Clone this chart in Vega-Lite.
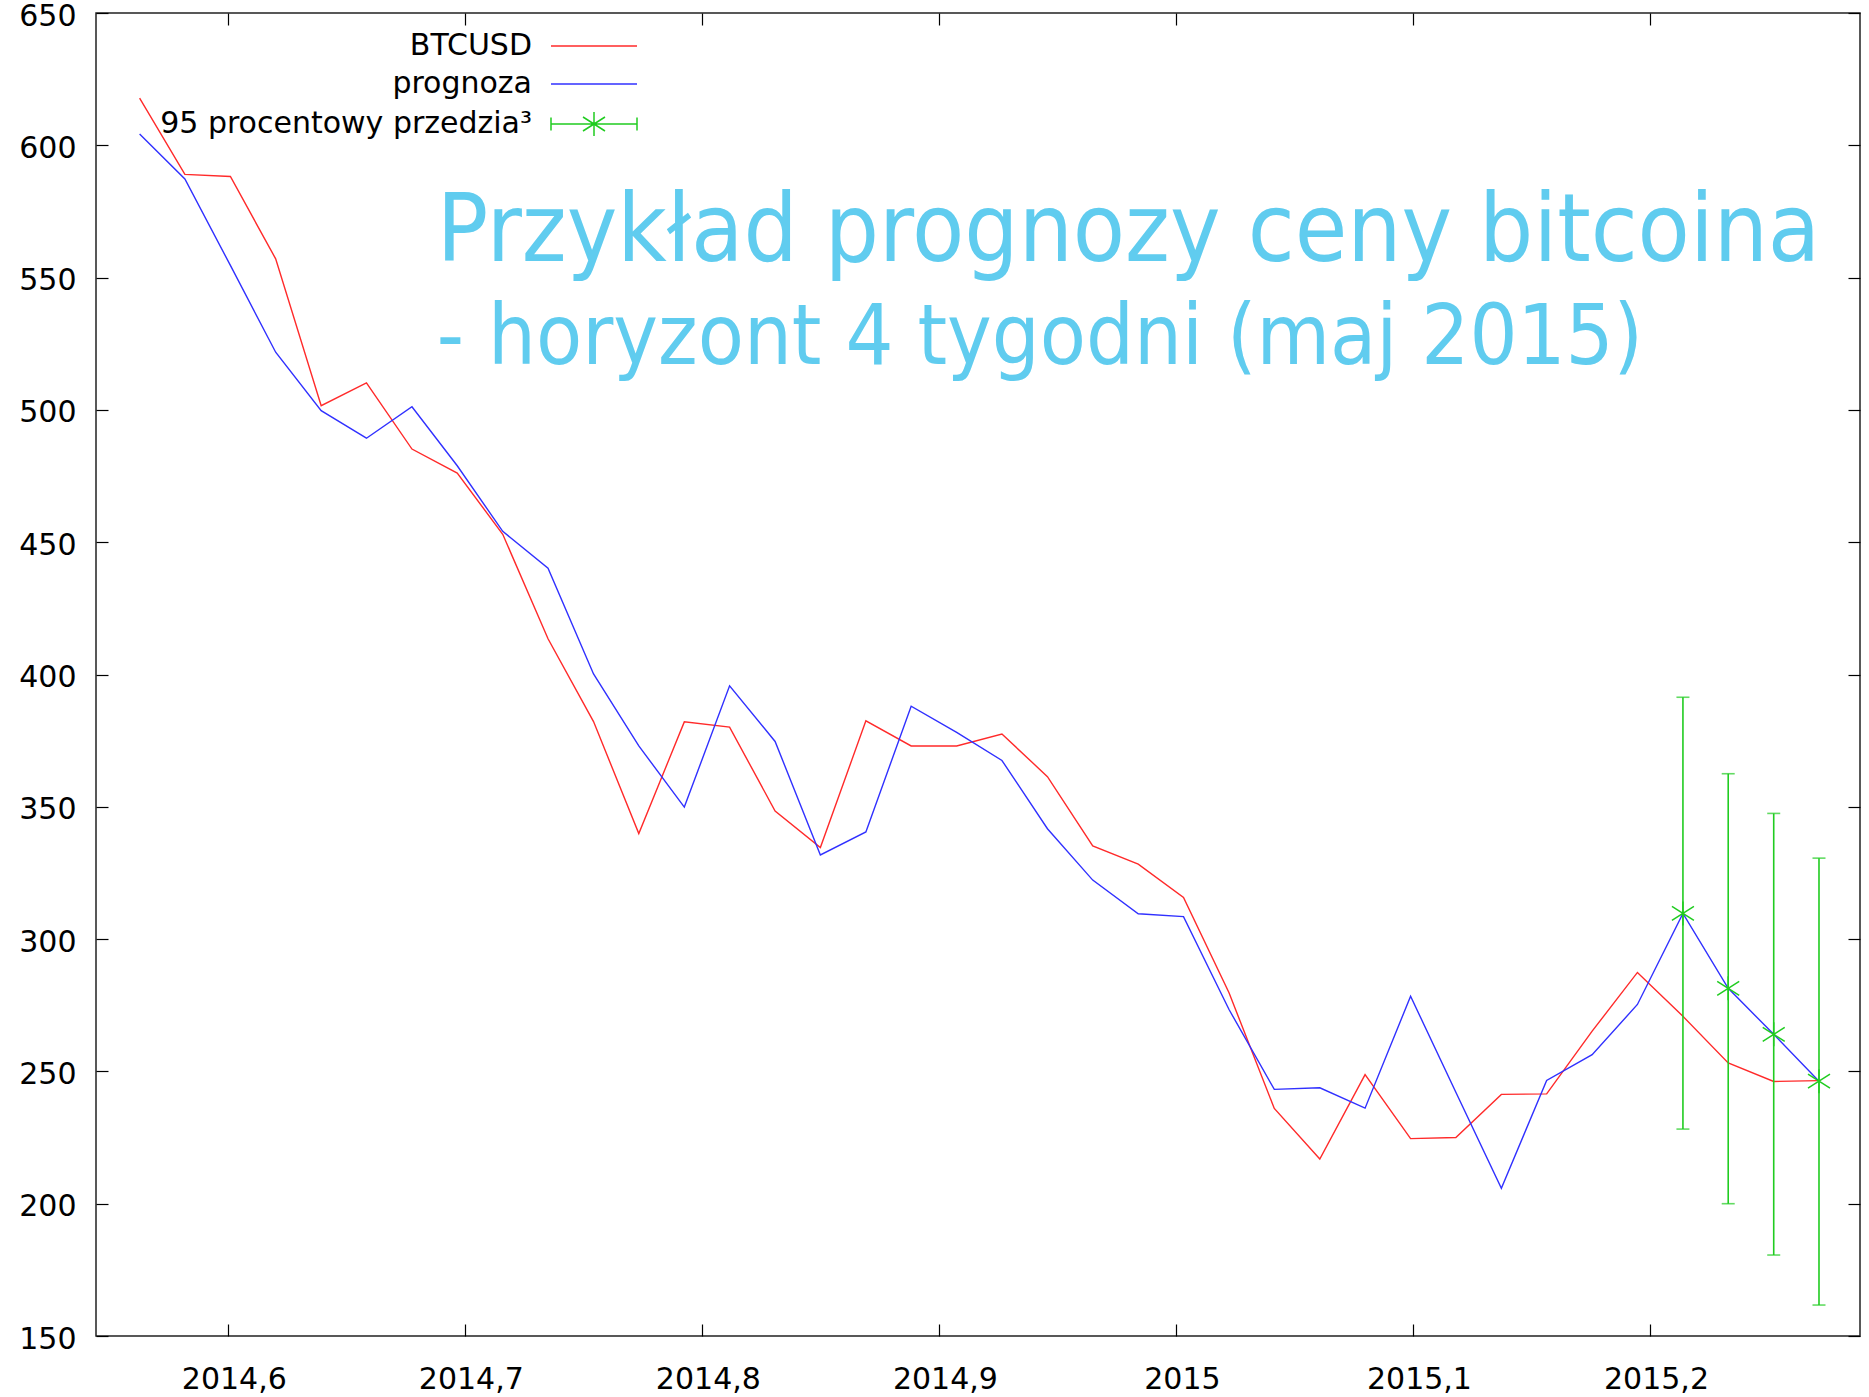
{
  "$schema": "https://vega.github.io/schema/vega-lite/v6.json",
  "width": 1764,
  "height": 1323,
  "autosize": {"type": "none"},
  "padding": {"top": 13, "left": 96, "right": 9, "bottom": 61},
  "background": "white",
  "config": {
    "view": {"stroke": "#222", "strokeWidth": 1.5},
    "axis": {"labelFont": "DejaVu Sans", "labelFontSize": 30, "labelColor": "#000", "tickColor": "#000", "tickSize": -12, "tickWidth": 1.2, "domain": false, "grid": false}
  },
  "datasets": {
    "lines": [
      {"year": 2014.5628, "price": 617.8, "series": "BTCUSD"},
      {"year": 2014.5819, "price": 589.0, "series": "BTCUSD"},
      {"year": 2014.6011, "price": 588.2, "series": "BTCUSD"},
      {"year": 2014.6202, "price": 557.1, "series": "BTCUSD"},
      {"year": 2014.6394, "price": 501.6, "series": "BTCUSD"},
      {"year": 2014.6585, "price": 510.2, "series": "BTCUSD"},
      {"year": 2014.6777, "price": 485.2, "series": "BTCUSD"},
      {"year": 2014.6968, "price": 476.1, "series": "BTCUSD"},
      {"year": 2014.7160, "price": 453.0, "series": "BTCUSD"},
      {"year": 2014.7351, "price": 413.5, "series": "BTCUSD"},
      {"year": 2014.7543, "price": 382.2, "series": "BTCUSD"},
      {"year": 2014.7734, "price": 339.9, "series": "BTCUSD"},
      {"year": 2014.7926, "price": 382.1, "series": "BTCUSD"},
      {"year": 2014.8117, "price": 380.1, "series": "BTCUSD"},
      {"year": 2014.8309, "price": 348.4, "series": "BTCUSD"},
      {"year": 2014.8500, "price": 334.6, "series": "BTCUSD"},
      {"year": 2014.8692, "price": 382.5, "series": "BTCUSD"},
      {"year": 2014.8883, "price": 373.0, "series": "BTCUSD"},
      {"year": 2014.9075, "price": 373.0, "series": "BTCUSD"},
      {"year": 2014.9266, "price": 377.5, "series": "BTCUSD"},
      {"year": 2014.9458, "price": 361.4, "series": "BTCUSD"},
      {"year": 2014.9649, "price": 335.2, "series": "BTCUSD"},
      {"year": 2014.9841, "price": 328.3, "series": "BTCUSD"},
      {"year": 2015.0032, "price": 315.7, "series": "BTCUSD"},
      {"year": 2015.0224, "price": 279.7, "series": "BTCUSD"},
      {"year": 2015.0415, "price": 236.0, "series": "BTCUSD"},
      {"year": 2015.0607, "price": 216.9, "series": "BTCUSD"},
      {"year": 2015.0798, "price": 248.8, "series": "BTCUSD"},
      {"year": 2015.0990, "price": 224.6, "series": "BTCUSD"},
      {"year": 2015.1181, "price": 225.0, "series": "BTCUSD"},
      {"year": 2015.1373, "price": 241.3, "series": "BTCUSD"},
      {"year": 2015.1564, "price": 241.5, "series": "BTCUSD"},
      {"year": 2015.1756, "price": 265.2, "series": "BTCUSD"},
      {"year": 2015.1947, "price": 287.4, "series": "BTCUSD"},
      {"year": 2015.2139, "price": 270.8, "series": "BTCUSD"},
      {"year": 2015.2330, "price": 253.2, "series": "BTCUSD"},
      {"year": 2015.2522, "price": 246.2, "series": "BTCUSD"},
      {"year": 2015.2713, "price": 246.5, "series": "BTCUSD"},
      {"year": 2014.5628, "price": 604.3, "series": "prognoza"},
      {"year": 2014.5819, "price": 587.3, "series": "prognoza"},
      {"year": 2014.6011, "price": 554.6, "series": "prognoza"},
      {"year": 2014.6202, "price": 521.8, "series": "prognoza"},
      {"year": 2014.6394, "price": 499.7, "series": "prognoza"},
      {"year": 2014.6585, "price": 489.3, "series": "prognoza"},
      {"year": 2014.6777, "price": 501.2, "series": "prognoza"},
      {"year": 2014.6968, "price": 478.9, "series": "prognoza"},
      {"year": 2014.7160, "price": 454.1, "series": "prognoza"},
      {"year": 2014.7351, "price": 440.2, "series": "prognoza"},
      {"year": 2014.7543, "price": 400.2, "series": "prognoza"},
      {"year": 2014.7734, "price": 373.0, "series": "prognoza"},
      {"year": 2014.7926, "price": 349.9, "series": "prognoza"},
      {"year": 2014.8117, "price": 395.7, "series": "prognoza"},
      {"year": 2014.8309, "price": 374.7, "series": "prognoza"},
      {"year": 2014.8500, "price": 331.8, "series": "prognoza"},
      {"year": 2014.8692, "price": 340.5, "series": "prognoza"},
      {"year": 2014.8883, "price": 388.0, "series": "prognoza"},
      {"year": 2014.9075, "price": 378.1, "series": "prognoza"},
      {"year": 2014.9266, "price": 367.5, "series": "prognoza"},
      {"year": 2014.9458, "price": 341.7, "series": "prognoza"},
      {"year": 2014.9649, "price": 322.3, "series": "prognoza"},
      {"year": 2014.9841, "price": 309.6, "series": "prognoza"},
      {"year": 2015.0032, "price": 308.5, "series": "prognoza"},
      {"year": 2015.0224, "price": 273.4, "series": "prognoza"},
      {"year": 2015.0415, "price": 243.2, "series": "prognoza"},
      {"year": 2015.0607, "price": 243.8, "series": "prognoza"},
      {"year": 2015.0798, "price": 236.1, "series": "prognoza"},
      {"year": 2015.0990, "price": 278.4, "series": "prognoza"},
      {"year": 2015.1181, "price": 242.1, "series": "prognoza"},
      {"year": 2015.1373, "price": 205.8, "series": "prognoza"},
      {"year": 2015.1564, "price": 246.6, "series": "prognoza"},
      {"year": 2015.1756, "price": 256.3, "series": "prognoza"},
      {"year": 2015.1947, "price": 275.3, "series": "prognoza"},
      {"year": 2015.2139, "price": 309.7, "series": "prognoza"},
      {"year": 2015.2330, "price": 281.4, "series": "prognoza"},
      {"year": 2015.2522, "price": 264.0, "series": "prognoza"},
      {"year": 2015.2713, "price": 246.3, "series": "prognoza"}
    ],
    "interval": [
      {"year": 2015.2139, "center": 309.7, "lower": 228.2, "upper": 391.4},
      {"year": 2015.2330, "center": 281.4, "lower": 200.0, "upper": 362.5},
      {"year": 2015.2522, "center": 264.0, "lower": 180.6, "upper": 347.5},
      {"year": 2015.2713, "center": 246.3, "lower": 161.7, "upper": 330.6}
    ]
  },
  "layer": [
    {
      "data": {"name": "lines"},
      "mark": {"type": "line", "strokeWidth": 1.4},
      "encoding": {
        "x": {
          "field": "year", "type": "quantitative",
          "scale": {"domain": [2014.5444, 2015.2886], "nice": false, "zero": false},
          "axis": {"orient": "bottom", "title": null, "values": [2014.6, 2014.7, 2014.8, 2014.9, 2015, 2015.1, 2015.2], "labelExpr": "replace(format(datum.value, '.1~f'), '.', ',')", "labelPadding": 40, "labelOffset": 6}
        },
        "y": {
          "field": "price", "type": "quantitative",
          "scale": {"domain": [150, 650], "nice": false, "zero": false},
          "axis": {"orient": "left", "title": null, "values": [150, 200, 250, 300, 350, 400, 450, 500, 550, 600, 650], "labelPadding": 32, "labelOffset": 3}
        },
        "color": {
          "field": "series", "type": "nominal",
          "scale": {"domain": ["BTCUSD", "prognoza"], "range": ["#ff2a2a", "#3030ff"]},
          "legend": {
            "title": null, "orient": "none", "legendX": 44, "legendY": 17,
            "symbolSize": 900, "symbolStrokeWidth": 1.5, "symbolOffset": 438,
            "symbolType": "M-2.867,0H2.867",
            "labelOffset": -78, "labelAlign": "right", "labelBaseline": "middle",
            "labelFont": "DejaVu Sans", "labelFontSize": 30, "labelColor": "#000", "labelLimit": 0,
            "rowPadding": 7, "padding": 0
          }
        }
      }
    },
    {
      "data": {"name": "interval"},
      "mark": {"type": "rule", "color": "#20cc20", "strokeWidth": 1.6},
      "encoding": {
        "x": {"field": "year", "type": "quantitative", "axis": null},
        "y": {"field": "lower", "type": "quantitative", "axis": null},
        "y2": {"field": "upper"}
      }
    },
    {
      "data": {"name": "interval"},
      "mark": {"type": "tick", "orient": "horizontal", "color": "#20cc20", "size": 13, "thickness": 1.6},
      "encoding": {
        "x": {"field": "year", "type": "quantitative", "axis": null},
        "y": {"field": "lower", "type": "quantitative", "axis": null}
      }
    },
    {
      "data": {"name": "interval"},
      "mark": {"type": "tick", "orient": "horizontal", "color": "#20cc20", "size": 13, "thickness": 1.6},
      "encoding": {
        "x": {"field": "year", "type": "quantitative", "axis": null},
        "y": {"field": "upper", "type": "quantitative", "axis": null}
      }
    },
    {
      "data": {"name": "interval"},
      "mark": {"type": "point", "shape": "M0,-1V1M-0.917,-0.583L0.917,0.583M-0.917,0.583L0.917,-0.583", "size": 576, "filled": false, "strokeWidth": 1.5, "opacity": 1},
      "encoding": {
        "x": {"field": "year", "type": "quantitative", "axis": null},
        "y": {"field": "center", "type": "quantitative", "axis": null},
        "color": {
          "datum": "95 procentowy przedzia³",
          "scale": {"domain": ["95 procentowy przedzia³"], "range": ["#20cc20"]},
          "legend": {
            "title": null, "orient": "none", "legendX": 44, "legendY": 95,
            "symbolSize": 900, "symbolStrokeWidth": 1.5, "symbolOffset": 438,
            "symbolType": "M-2.867,0H2.867M-2.867,-0.433V0.433M2.867,-0.433V0.433M0,-0.8V0.8M-0.733,-0.467L0.733,0.467M-0.733,0.467L0.733,-0.467",
            "labelOffset": -78, "labelAlign": "right", "labelBaseline": "middle",
            "labelFont": "DejaVu Sans", "labelFontSize": 30, "labelColor": "#000", "labelLimit": 0,
            "rowPadding": 7, "padding": 0
          }
        }
      }
    },
    {
      "data": {"values": [{}]},
      "mark": {"type": "text", "text": "Przykład prognozy ceny bitcoina", "align": "left", "baseline": "alphabetic", "font": "DejaVu Sans Condensed", "fontSize": 95, "color": "#60CCEF"},
      "encoding": {
        "x": {"datum": 2014.6882, "type": "quantitative", "axis": null},
        "y": {"datum": 556.4, "type": "quantitative", "axis": null}
      }
    },
    {
      "data": {"values": [{}]},
      "mark": {"type": "text", "text": "- horyzont 4 tygodni (maj 2015)", "align": "left", "baseline": "alphabetic", "font": "DejaVu Sans Condensed", "fontSize": 84, "color": "#60CCEF"},
      "encoding": {
        "x": {"datum": 2014.6882, "type": "quantitative", "axis": null},
        "y": {"datum": 517.5, "type": "quantitative", "axis": null}
      }
    },
    {
      "data": {"name": "interval"},
      "mark": {"type": "point", "opacity": 0},
      "encoding": {
        "x": {"field": "year", "type": "quantitative", "axis": {"orient": "top", "labels": false, "title": null, "values": [2014.6, 2014.7, 2014.8, 2014.9, 2015, 2015.1, 2015.2]}},
        "y": {"field": "center", "type": "quantitative", "axis": {"orient": "right", "labels": false, "title": null, "values": [150, 200, 250, 300, 350, 400, 450, 500, 550, 600, 650]}}
      }
    }
  ],
  "resolve": {"axis": {"x": "independent", "y": "independent"}, "scale": {"color": "independent"}}
}
